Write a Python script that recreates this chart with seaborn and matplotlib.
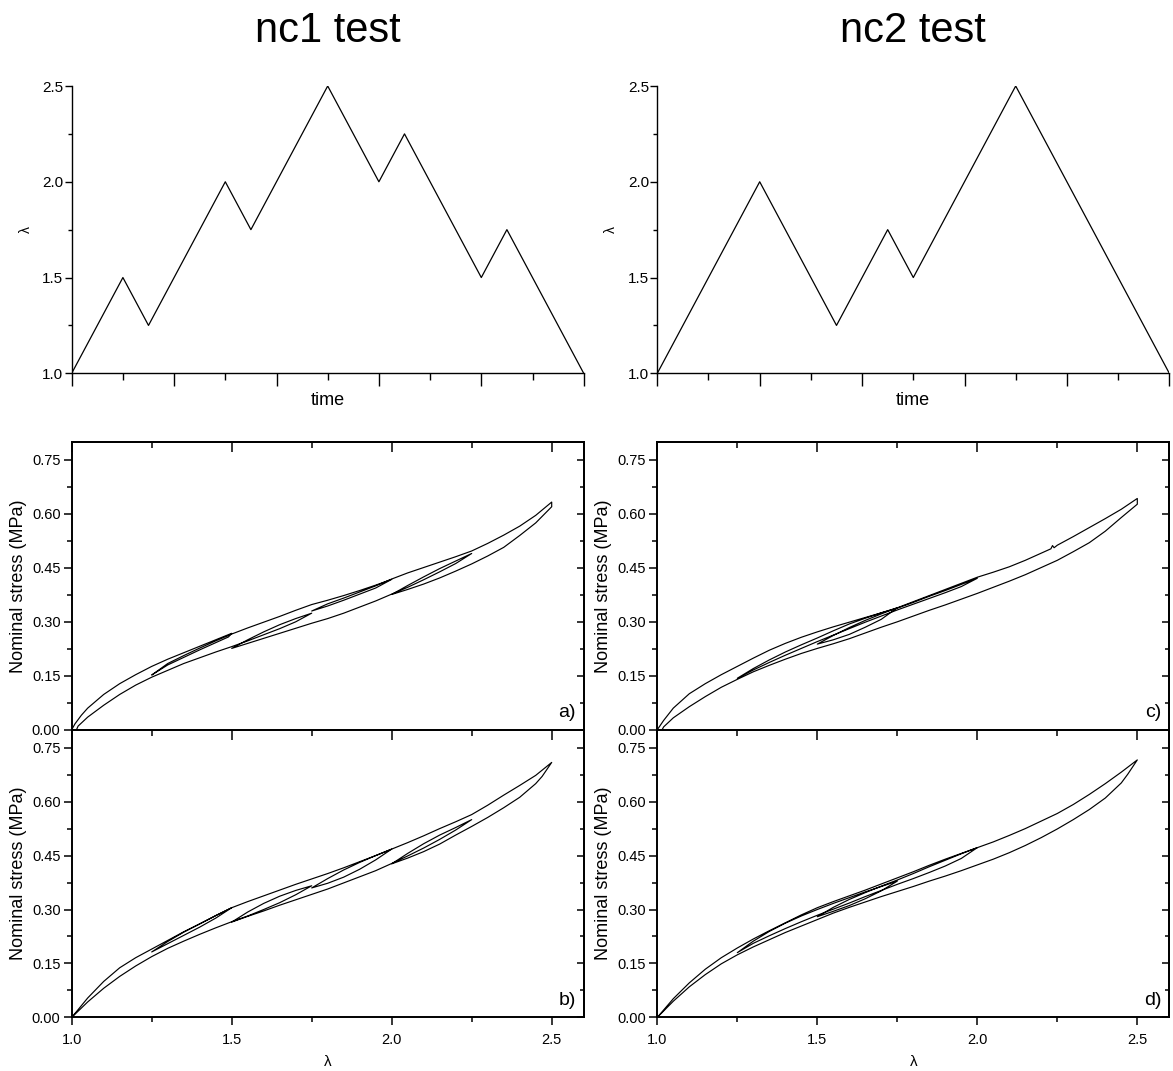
import numpy as np
import pandas as pd
import matplotlib
matplotlib.use("Agg")
import matplotlib.pyplot as plt
from matplotlib.ticker import MultipleLocator
import seaborn as sns

sns.set_theme(style="white")
plt.rcParams['font.family'] = ['Liberation Sans', 'DejaVu Sans']
plt.rcParams.update({"text.color": "black", "axes.labelcolor": "black",
                     "xtick.color": "black", "ytick.color": "black"})

# stretch history (time in steps, lambda)
nc1_time = [0, 2, 3, 6, 7, 10, 12, 13, 16, 17, 20]
nc1_lam = [1.0, 1.5, 1.25, 2.0, 1.75, 2.5, 2.0, 2.25, 1.5, 1.75, 1.0]
nc2_time = [0, 4, 7, 9, 10, 14, 20]
nc2_lam = [1.0, 2.0, 1.25, 1.75, 1.5, 2.5, 1.0]

# a) nc1 measured loops, (lambda, stress) along the path
a_path = [
    (1.00, 0.000), (1.01, 0.016), (1.03, 0.040), (1.05, 0.060), (1.10, 0.098), (1.15, 0.128),
    (1.20, 0.153), (1.25, 0.176), (1.30, 0.196), (1.35, 0.214), (1.40, 0.232), (1.45, 0.250),
    (1.50, 0.268),
    (1.49, 0.258), (1.45, 0.242), (1.40, 0.222), (1.35, 0.201), (1.30, 0.180), (1.25, 0.152),
    (1.30, 0.184), (1.35, 0.206), (1.40, 0.227), (1.45, 0.247), (1.50, 0.266), (1.55, 0.283),
    (1.60, 0.299), (1.65, 0.315), (1.70, 0.332), (1.75, 0.348), (1.80, 0.360), (1.85, 0.373),
    (1.90, 0.387), (1.95, 0.402), (2.00, 0.418),
    (1.95, 0.394), (1.90, 0.377), (1.85, 0.360), (1.80, 0.344), (1.75, 0.330),
    (1.80, 0.350), (1.85, 0.366), (1.90, 0.383), (1.95, 0.400), (2.00, 0.419), (2.05, 0.436),
    (2.10, 0.451), (2.15, 0.466), (2.20, 0.481), (2.25, 0.497), (2.30, 0.518), (2.35, 0.541),
    (2.40, 0.566), (2.45, 0.596), (2.50, 0.633),
    (2.50, 0.620), (2.45, 0.575), (2.40, 0.540), (2.35, 0.507), (2.30, 0.483), (2.25, 0.461),
    (2.20, 0.441), (2.15, 0.422), (2.10, 0.405), (2.05, 0.390), (2.00, 0.376),
    (2.05, 0.401), (2.10, 0.425), (2.15, 0.448), (2.20, 0.469), (2.25, 0.490),
    (2.20, 0.462), (2.15, 0.439), (2.10, 0.417), (2.05, 0.396), (2.00, 0.377), (1.95, 0.358),
    (1.90, 0.341), (1.85, 0.324), (1.80, 0.309), (1.75, 0.296), (1.70, 0.282), (1.65, 0.268),
    (1.60, 0.254), (1.55, 0.240), (1.50, 0.226),
    (1.55, 0.250), (1.60, 0.272), (1.65, 0.292), (1.70, 0.309), (1.75, 0.324),
    (1.70, 0.300), (1.65, 0.281), (1.60, 0.264), (1.55, 0.247), (1.50, 0.231), (1.45, 0.216),
    (1.40, 0.200), (1.35, 0.184), (1.30, 0.165), (1.25, 0.146), (1.20, 0.124), (1.15, 0.098),
    (1.10, 0.068), (1.05, 0.035), (1.02, 0.010), (1.015, 0.000),
]

# b) nc1 model
b_path = [
    (1.00, 0.000), (1.05, 0.054), (1.10, 0.100), (1.15, 0.138), (1.20, 0.166), (1.25, 0.190),
    (1.30, 0.214), (1.35, 0.238), (1.40, 0.260), (1.45, 0.283), (1.50, 0.305),
    (1.45, 0.276), (1.40, 0.251), (1.35, 0.228), (1.30, 0.205), (1.25, 0.182),
    (1.30, 0.211), (1.35, 0.237), (1.40, 0.260), (1.45, 0.283), (1.50, 0.305), (1.55, 0.322),
    (1.60, 0.338), (1.65, 0.354), (1.70, 0.370), (1.75, 0.385), (1.80, 0.400), (1.85, 0.416),
    (1.90, 0.433), (1.95, 0.450), (2.00, 0.468),
    (1.95, 0.438), (1.90, 0.412), (1.85, 0.390), (1.80, 0.373), (1.75, 0.360),
    (1.80, 0.386), (1.85, 0.410), (1.90, 0.431), (1.95, 0.450), (2.00, 0.468), (2.05, 0.486),
    (2.10, 0.505), (2.15, 0.525), (2.20, 0.544), (2.25, 0.564), (2.30, 0.590), (2.35, 0.618),
    (2.40, 0.645), (2.45, 0.673), (2.50, 0.709),
    (2.47, 0.670), (2.45, 0.650), (2.40, 0.612), (2.35, 0.583), (2.30, 0.556), (2.25, 0.531),
    (2.20, 0.507), (2.15, 0.482), (2.10, 0.461), (2.05, 0.443), (2.00, 0.427),
    (2.05, 0.456), (2.10, 0.483), (2.15, 0.507), (2.20, 0.528), (2.25, 0.550),
    (2.20, 0.521), (2.15, 0.495), (2.10, 0.471), (2.05, 0.449), (2.00, 0.428), (1.95, 0.408),
    (1.90, 0.391), (1.85, 0.374), (1.80, 0.357), (1.75, 0.342), (1.70, 0.327), (1.65, 0.312),
    (1.60, 0.296), (1.55, 0.281), (1.50, 0.265),
    (1.55, 0.293), (1.60, 0.317), (1.65, 0.337), (1.70, 0.353), (1.75, 0.366),
    (1.70, 0.341), (1.65, 0.319), (1.60, 0.300), (1.55, 0.282), (1.50, 0.266), (1.45, 0.249),
    (1.40, 0.231), (1.35, 0.212), (1.30, 0.192), (1.25, 0.169), (1.20, 0.143), (1.15, 0.114),
    (1.10, 0.081), (1.05, 0.043), (1.00, 0.000),
]

# c) nc2 measured loops
c_path = [
    (1.00, 0.000), (1.02, 0.026), (1.05, 0.060), (1.10, 0.100), (1.15, 0.128), (1.20, 0.153),
    (1.25, 0.176), (1.30, 0.199), (1.35, 0.221), (1.40, 0.240), (1.45, 0.257), (1.50, 0.272),
    (1.55, 0.286), (1.60, 0.299), (1.65, 0.312), (1.70, 0.325), (1.75, 0.338), (1.80, 0.354),
    (1.85, 0.371), (1.90, 0.387), (1.95, 0.404), (2.00, 0.421),
    (1.95, 0.398), (1.90, 0.381), (1.85, 0.365), (1.80, 0.349), (1.75, 0.333), (1.70, 0.316),
    (1.65, 0.299), (1.60, 0.281), (1.55, 0.263), (1.50, 0.245), (1.45, 0.226), (1.40, 0.207),
    (1.35, 0.187), (1.30, 0.166), (1.25, 0.143),
    (1.30, 0.170), (1.35, 0.194), (1.40, 0.216), (1.45, 0.236), (1.50, 0.255), (1.55, 0.275),
    (1.60, 0.294), (1.65, 0.310), (1.70, 0.325), (1.75, 0.339),
    (1.70, 0.307), (1.65, 0.285), (1.60, 0.265), (1.55, 0.250), (1.50, 0.238),
    (1.55, 0.262), (1.60, 0.284), (1.65, 0.304), (1.70, 0.322), (1.75, 0.339), (1.80, 0.356),
    (1.85, 0.373), (1.90, 0.390), (1.95, 0.407), (2.00, 0.424), (2.05, 0.438), (2.10, 0.453),
    (2.15, 0.471), (2.20, 0.491), (2.23, 0.503), (2.235, 0.512), (2.24, 0.506), (2.25, 0.513),
    (2.30, 0.537), (2.35, 0.562), (2.40, 0.587), (2.45, 0.613), (2.50, 0.643),
    (2.50, 0.627), (2.45, 0.590), (2.40, 0.552), (2.35, 0.520), (2.30, 0.495), (2.25, 0.471),
    (2.20, 0.451), (2.15, 0.431), (2.10, 0.413), (2.05, 0.396), (2.00, 0.379), (1.95, 0.363),
    (1.90, 0.347), (1.85, 0.332), (1.80, 0.316), (1.75, 0.300), (1.70, 0.285), (1.65, 0.269),
    (1.60, 0.253), (1.55, 0.239), (1.50, 0.226), (1.45, 0.212), (1.40, 0.196), (1.35, 0.179),
    (1.30, 0.161), (1.25, 0.140), (1.20, 0.118), (1.15, 0.092), (1.10, 0.064), (1.05, 0.033),
    (1.02, 0.008), (1.015, 0.000),
]

# d) nc2 model
d_path = [
    (1.00, 0.000), (1.05, 0.052), (1.10, 0.096), (1.15, 0.134), (1.20, 0.166), (1.25, 0.193),
    (1.30, 0.218), (1.35, 0.241), (1.40, 0.263), (1.45, 0.285), (1.50, 0.305), (1.55, 0.322),
    (1.60, 0.338), (1.65, 0.354), (1.70, 0.371), (1.75, 0.388), (1.80, 0.405), (1.85, 0.423),
    (1.90, 0.440), (1.95, 0.456), (2.00, 0.472),
    (1.95, 0.442), (1.90, 0.421), (1.85, 0.403), (1.80, 0.386), (1.75, 0.370), (1.70, 0.353),
    (1.65, 0.336), (1.60, 0.318), (1.55, 0.301), (1.50, 0.284), (1.45, 0.266), (1.40, 0.247),
    (1.35, 0.227), (1.30, 0.206), (1.25, 0.180),
    (1.30, 0.212), (1.35, 0.239), (1.40, 0.262), (1.45, 0.282), (1.50, 0.300), (1.55, 0.317),
    (1.60, 0.333), (1.65, 0.349), (1.70, 0.364), (1.75, 0.379),
    (1.70, 0.352), (1.65, 0.330), (1.60, 0.311), (1.55, 0.295), (1.50, 0.280),
    (1.55, 0.306), (1.60, 0.328), (1.65, 0.347), (1.70, 0.365), (1.75, 0.382), (1.80, 0.400),
    (1.85, 0.419), (1.90, 0.437), (1.95, 0.455), (2.00, 0.472), (2.05, 0.488), (2.10, 0.506),
    (2.15, 0.525), (2.20, 0.546), (2.25, 0.567), (2.30, 0.592), (2.35, 0.620), (2.40, 0.650),
    (2.45, 0.682), (2.50, 0.716),
    (2.47, 0.676), (2.45, 0.652), (2.40, 0.610), (2.35, 0.578), (2.30, 0.550), (2.25, 0.524),
    (2.20, 0.500), (2.15, 0.478), (2.10, 0.458), (2.05, 0.440), (2.00, 0.424), (1.95, 0.408),
    (1.90, 0.393), (1.85, 0.379), (1.80, 0.364), (1.75, 0.350), (1.70, 0.336), (1.65, 0.321),
    (1.60, 0.306), (1.55, 0.290), (1.50, 0.272), (1.45, 0.254), (1.40, 0.236), (1.35, 0.216),
    (1.30, 0.196), (1.25, 0.174), (1.20, 0.149), (1.15, 0.119), (1.10, 0.085), (1.05, 0.045),
    (1.00, 0.000),
]

titles = ["nc1 test", "nc2 test"]
panel_tags = ["a)", "b)", "c)", "d)"]
ylab = "Nominal stress (MPa)"

W, H = 1173, 1071
fig = plt.figure(figsize=(W / 100, H / 100), dpi=100)


def rect(x0, y_top, w, h):
    return [x0 / W, 1 - (y_top + h) / H, w / W, h / H]


lefts = [71.7, 657.3]
axw = 512

# ---- top row: stretch history
for i, (t, l) in enumerate([(nc1_time, nc1_lam), (nc2_time, nc2_lam)]):
    ax = fig.add_axes(rect(lefts[i], 86, axw, 287.3))
    df = pd.DataFrame({"time": t, "lam": l})
    sns.lineplot(data=df, x="time", y="lam", sort=False, estimator=None,
                 color="black", lw=0.9, ax=ax)
    ax.set_xlim(0, 20)
    ax.set_ylim(1.0, 2.5)
    sns.despine(ax=ax)
    for s in ["left", "bottom"]:
        ax.spines[s].set_linewidth(1.0)
        ax.spines[s].set_color("black")
    ax.xaxis.set_major_locator(MultipleLocator(4))
    ax.xaxis.set_minor_locator(MultipleLocator(2))
    ax.yaxis.set_major_locator(MultipleLocator(0.5))
    ax.yaxis.set_minor_locator(MultipleLocator(0.25))
    ax.tick_params(axis="x", which="major", bottom=True, direction="out", length=9, width=1, labelbottom=False)
    ax.tick_params(axis="x", which="minor", bottom=True, direction="out", length=5, width=1)
    ax.tick_params(axis="y", which="major", left=True, direction="out", length=5, width=1,
                   labelsize=11, pad=1)
    ax.tick_params(axis="y", which="minor", left=True, direction="out", length=3, width=1)
    ax.yaxis.set_major_formatter(plt.FormatStrFormatter("%.1f"))
    ax.set_xlabel("time", fontsize=13)
    ax.xaxis.set_label_coords(0.5, -0.065)
    ax.set_ylabel("λ", fontsize=10)
    ax.yaxis.set_label_coords(-0.076, 0.5)
    fig.text((lefts[i] + axw / 2) / W, 1 - 31 / H, titles[i], ha="center", va="center",
             fontsize=30)

# ---- stress loops
paths = [[a_path, b_path], [c_path, d_path]]
tops = [442, 729.7]
for i in range(2):
    for j in range(2):
        ax = fig.add_axes(rect(lefts[i], tops[j], axw, 287.7))
        arr = np.array(paths[i][j])
        df = pd.DataFrame({"lam": arr[:, 0], "stress": arr[:, 1]})
        sns.lineplot(data=df, x="lam", y="stress", sort=False, estimator=None,
                     color="black", lw=0.85, ax=ax)
        ax.set_xlim(1.0, 2.6)
        ax.set_ylim(0.0, 0.8)
        for s in ax.spines.values():
            s.set_linewidth(1.4)
            s.set_color("black")
        ax.xaxis.set_major_locator(MultipleLocator(0.5))
        ax.xaxis.set_minor_locator(MultipleLocator(0.25))
        ax.yaxis.set_major_locator(MultipleLocator(0.15))
        ax.yaxis.set_minor_locator(MultipleLocator(0.075))
        ax.tick_params(which="major", direction="out", length=6, width=1.1, labelsize=10.5, pad=2)
        ax.tick_params(which="minor", direction="out", length=3.5, width=1.1)
        ax.tick_params(axis="x", bottom=True, which="both", labelbottom=(j == 1), pad=5)
        ax.tick_params(axis="y", left=True, which="both")
        ax.yaxis.set_major_formatter(plt.FormatStrFormatter("%.2f"))
        ax.xaxis.set_major_formatter(plt.FormatStrFormatter("%.1f"))
        top = ax.secondary_xaxis("top")
        top.xaxis.set_major_locator(MultipleLocator(0.5))
        top.xaxis.set_minor_locator(MultipleLocator(0.25))
        top.tick_params(which="major", direction="in", length=7, width=1.1, labeltop=False)
        top.tick_params(which="minor", direction="in", length=4, width=1.1)
        top.spines["top"].set_linewidth(1.4)
        right = ax.secondary_yaxis("right")
        right.yaxis.set_major_locator(MultipleLocator(0.15))
        right.yaxis.set_minor_locator(MultipleLocator(0.075))
        right.tick_params(which="major", direction="in", length=5, width=1.1, labelright=False)
        right.tick_params(which="minor", direction="in", length=3, width=1.1)
        right.spines["right"].set_linewidth(1.4)
        ax.set_ylabel(ylab, fontsize=13)
        ax.yaxis.set_label_coords(-0.088, 0.5)
        if j == 1:
            ax.set_xlabel("λ", fontsize=11)
            ax.xaxis.set_label_coords(0.5, -0.13)
        else:
            ax.set_xlabel("")
        ax.text(0.985, 0.03, panel_tags[2 * i + j], transform=ax.transAxes,
                ha="right", va="bottom", fontsize=14)

fig.savefig("out.png", dpi=100)
